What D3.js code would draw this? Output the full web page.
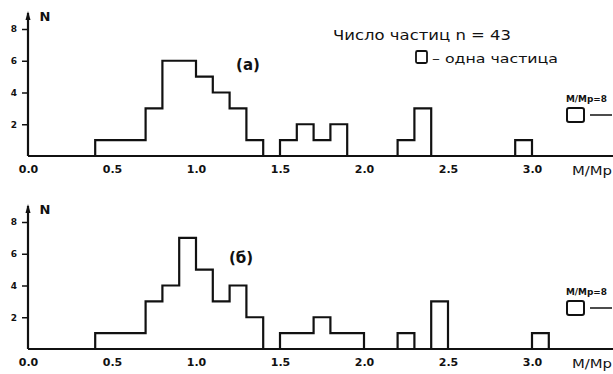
<!DOCTYPE html>
<html>
<head>
<meta charset="utf-8">
<script src="https://cdn.jsdelivr.net/npm/d3@7"></script>
<style>
  body { margin: 0; background: #fff; }
  text { font-family: "DejaVu Sans", sans-serif; fill: #111; }
</style>
</head>
<body>
<svg id="chart" width="613" height="374"></svg>
<script>
// bin start (M/Mp) and number of particles, bin width 0.1
const binWidth = 0.1;
const topStart = [0.4, 0.5, 0.6, 0.7, 0.8, 0.9, 1.0, 1.1, 1.2, 1.3, 1.5, 1.6, 1.7, 1.8, 2.2, 2.3, 2.9];
const topCount = [1, 1, 1, 3, 6, 6, 5, 4, 3, 1, 1, 2, 1, 2, 1, 3, 1];
const botStart = [0.4, 0.5, 0.6, 0.7, 0.8, 0.9, 1.0, 1.1, 1.2, 1.3, 1.5, 1.6, 1.7, 1.8, 1.9, 2.2, 2.4, 3.0];
const botCount = [1, 1, 1, 3, 4, 7, 5, 3, 4, 2, 1, 1, 2, 1, 1, 1, 3, 1];
const xTicks = [0, 0.5, 1.0, 1.5, 2.0, 2.5, 3.0];
const yTicks = [2, 4, 6, 8];

const svg = d3.select("#chart");
svg.append("rect").attr("width", 613).attr("height", 374).attr("fill", "#fff");

const x = d3.scaleLinear().domain([0, 3]).range([28, 532]);

// split bins into runs of neighbouring bins so each run is one step outline
function runs(starts, counts) {
    const out = [];
    let cur = [];
    starts.forEach((s, i) => {
        if (cur.length && Math.abs(s - cur[cur.length - 1].s - binWidth) > 1e-6) {
            out.push(cur);
            cur = [];
        }
        cur.push({s: s, c: counts[i]});
    });
    if (cur.length) out.push(cur);
    return out;
}

function panel(starts, counts, base, label, labelX) {
    const y = d3.scaleLinear().domain([0, 8]).range([base, base - 127]);
    const g = svg.append("g");

    // histogram outline
    const line = d3.line()
        .x(d => x(d[0]))
        .y(d => y(d[1]))
        .curve(d3.curveStepAfter);
    runs(starts, counts).forEach(r => {
        const pts = r.map(d => [d.s, d.c]);
        pts.push([r[r.length - 1].s + binWidth, 0]);
        g.append("path")
            .attr("d", "M" + x(r[0].s) + "," + y(0) + "L" + line(pts).slice(1))
            .attr("fill", "none")
            .attr("stroke", "#111")
            .attr("stroke-width", 2.2);
    });

    // x axis
    const xa = g.append("g")
        .attr("transform", `translate(0,${base})`)
        .call(d3.axisBottom(x).tickValues(xTicks).tickSize(0).tickPadding(9)
            .tickFormat(d3.format(".1f")));
    xa.select(".domain").remove();
    xa.selectAll("text").style("font-size", "11px").style("font-weight", "bold")
        .attr("fill", "#111");
    g.append("line")
        .attr("x1", x(0)).attr("x2", 613)
        .attr("y1", base).attr("y2", base)
        .attr("stroke", "#111").attr("stroke-width", 2);

    // y axis
    const ya = g.append("g")
        .attr("transform", `translate(${x(0)},0)`)
        .call(d3.axisLeft(y).tickValues(yTicks).tickSize(6).tickPadding(5));
    ya.select(".domain").remove();
    ya.selectAll("line").attr("stroke", "#111").attr("stroke-width", 1.5);
    ya.selectAll("text").style("font-size", "9px").style("font-weight", "bold")
        .attr("fill", "#111");
    g.append("line")
        .attr("x1", x(0)).attr("x2", x(0))
        .attr("y1", base).attr("y2", base - 143)
        .attr("stroke", "#111").attr("stroke-width", 2.2);
    g.append("path")
        .attr("d", `M${x(0) - 2.5},${base - 136}L${x(0)},${base - 145}L${x(0) + 2.5},${base - 136}Z`)
        .attr("fill", "#111");
    g.append("text")
        .attr("x", 45).attr("y", base - 135)
        .style("font-size", "13px").style("font-weight", "bold")
        .attr("text-anchor", "middle")
        .text("N");

    g.append("text")
        .attr("x", 572).attr("y", base + 19)
        .attr("textLength", 40).attr("lengthAdjust", "spacingAndGlyphs")
        .style("font-size", "13px")
        .text("M/Mp");

    g.append("text")
        .attr("x", labelX).attr("y", base - 86)
        .style("font-size", "15px").style("font-weight", "600")
        .attr("text-anchor", "middle")
        .text(label);

    // the one particle at M/Mp = 8, off scale
    g.append("text")
        .attr("x", 566).attr("y", base - 54)
        .attr("textLength", 41).attr("lengthAdjust", "spacingAndGlyphs")
        .style("font-size", "8px").style("font-weight", "bold")
        .text("M/Mp=8");
    g.append("rect")
        .attr("x", 567).attr("y", base - 48)
        .attr("width", 17).attr("height", 14).attr("rx", 2)
        .attr("fill", "none").attr("stroke", "#111").attr("stroke-width", 2);
    g.append("line")
        .attr("x1", 590).attr("x2", 612)
        .attr("y1", base - 41).attr("y2", base - 41)
        .attr("stroke", "#111").attr("stroke-width", 1.5);
}

panel(topStart, topCount, 156, "(а)", 248);
panel(botStart, botCount, 349, "(б)", 241);

// legend
svg.append("text")
    .attr("x", 333).attr("y", 40)
    .attr("textLength", 178).attr("lengthAdjust", "spacingAndGlyphs")
    .style("font-size", "14px")
    .text("Число частиц  n = 43");
svg.append("rect")
    .attr("x", 416).attr("y", 51)
    .attr("width", 11).attr("height", 12).attr("rx", 1.5)
    .attr("fill", "none").attr("stroke", "#111").attr("stroke-width", 1.8);
svg.append("text")
    .attr("x", 432).attr("y", 63)
    .attr("textLength", 126).attr("lengthAdjust", "spacingAndGlyphs")
    .style("font-size", "12px")
    .text("– одна частица");
</script>
</body>
</html>
